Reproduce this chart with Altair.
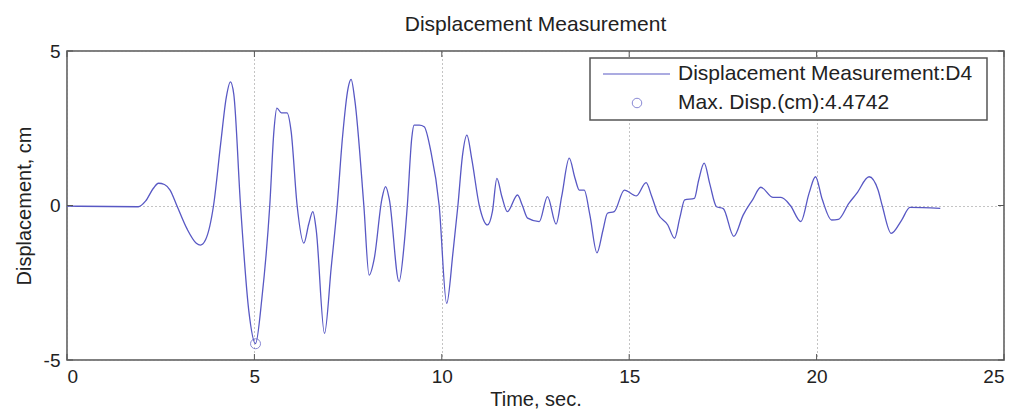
import altair as alt
import pandas as pd

# ---- data ----
time_s = [0.0, 1.9, 2.1, 2.3, 2.44, 2.6, 2.75, 2.93, 3.2, 3.45, 3.56, 3.7, 3.91,
          4.1, 4.25, 4.36, 4.45, 4.63, 4.85, 5.03, 5.2, 5.41, 5.52, 5.6, 5.72,
          5.87, 5.98, 6.14, 6.32, 6.45, 6.56, 6.65, 6.87, 7.05, 7.21, 7.35, 7.5,
          7.58, 7.68, 7.92, 8.06, 8.2, 8.4, 8.5, 8.6, 8.86, 9.0, 9.08, 9.2, 9.26,
          9.4, 9.53, 9.7, 9.93, 10.13, 10.3, 10.43, 10.55, 10.67, 10.8, 11.0,
          11.22, 11.35, 11.47, 11.6, 11.75, 12.02, 12.15, 12.29, 12.6, 12.82,
          13.05, 13.2, 13.4, 13.55, 13.67, 13.8, 13.95, 14.14, 14.3, 14.42, 14.6,
          14.87, 15.19, 15.45, 15.6, 15.76, 16.03, 16.21, 16.35, 16.48, 16.74,
          16.85, 17.0, 17.15, 17.33, 17.51, 17.79, 18.04, 18.3, 18.51, 18.84,
          19.05, 19.3, 19.58, 19.8, 19.97, 20.15, 20.4, 20.58, 20.86, 21.07,
          21.4, 21.64, 21.75, 21.99, 22.27, 22.49, 23.3]
disp_cm = [-0.02, -0.04, 0.15, 0.55, 0.72, 0.68, 0.5, 0.0, -0.75, -1.22, -1.28,
           -1.1, 0.0, 2.0, 3.5, 4.0, 3.6, 0.0, -3.4, -4.47, -3.0, 0.0, 2.4, 3.15,
           3.0, 3.0, 2.4, 0.0, -1.22, -0.6, -0.2, -0.8, -4.14, -2.0, 0.0, 2.2,
           3.8, 4.08, 3.4, 0.0, -2.25, -1.7, 0.2, 0.61, 0.2, -2.46, -1.2, 0.0,
           2.2, 2.6, 2.6, 2.55, 1.8, 0.0, -3.17, -1.5, 0.0, 1.6, 2.28, 1.5, 0.0,
           -0.63, -0.2, 0.88, 0.3, -0.2, 0.34, 0.0, -0.41, -0.52, 0.29, -0.6,
           0.3, 1.53, 0.9, 0.5, 0.5, -0.3, -1.53, -0.8, -0.25, -0.2, 0.5, 0.31,
           0.74, 0.3, -0.25, -0.63, -1.06, -0.4, 0.18, 0.23, 0.8, 1.37, 0.7,
           -0.04, -0.1, -1.0, -0.31, 0.2, 0.59, 0.26, 0.26, 0.0, -0.52, 0.4,
           0.93, 0.2, -0.47, -0.45, 0.07, 0.39, 0.93, 0.5, 0.0, -0.9, -0.47,
           -0.06, -0.09]
max_time = [5.03]
max_disp = [-4.4742]
x_ticks = [0, 5, 10, 15, 20, 25]
y_ticks = [-5, 0, 5]
legend_labels = ["Displacement Measurement:D4", "Max. Disp.(cm):4.4742"]

LINE = "#5858c4"
FRAME = "#555555"
TXT = "#222222"
FONT = "Liberation Sans"
W, H = 937, 309

df = pd.DataFrame({"t": time_s, "d": disp_cm})
dmax = pd.DataFrame({"t": max_time, "d": max_disp})
xt = pd.DataFrame({"t": x_ticks})
yt = pd.DataFrame({"d": y_ticks})

xs = alt.Scale(domain=[0, 25], nice=False, zero=False)
ys = alt.Scale(domain=[-5, 5], nice=False, zero=False)

common_axis = dict(grid=True, gridDash=[1, 3], gridColor="#888888", ticks=False,
                   domain=False, labelFont=FONT, titleFont=FONT,
                   labelFontSize=19, titleFontSize=20, titleFontWeight="normal",
                   labelColor=TXT, titleColor=TXT,
                   labelExpr="replace(datum.label, '\u2212', '-')")

base_x = alt.X("t:Q", scale=xs,
               axis=alt.Axis(values=x_ticks, title="Time, sec.",
                             labelPadding=7, titlePadding=3, **common_axis))
base_y = alt.Y("d:Q", scale=ys,
               axis=alt.Axis(values=y_ticks, title="Displacement, cm",
                             labelPadding=7, titlePadding=9, **common_axis))

line = alt.Chart(df).mark_line(color=LINE, strokeWidth=1.3,
                               interpolate="monotone").encode(x=base_x, y=base_y)

marker = alt.Chart(dmax).mark_point(shape="circle", size=100, color=LINE,
                                    strokeWidth=1, filled=False).encode(
    x=alt.X("t:Q", scale=xs), y=alt.Y("d:Q", scale=ys))

# inward tick marks on the four sides (MATLAB style)
xtick_b = alt.Chart(xt).mark_rule(color=FRAME, strokeWidth=1).encode(
    x=alt.X("t:Q", scale=xs), y=alt.value(H), y2=alt.value(H - 6))
xtick_t = alt.Chart(xt).mark_rule(color=FRAME, strokeWidth=1).encode(
    x=alt.X("t:Q", scale=xs), y=alt.value(0), y2=alt.value(6))
ytick_l = alt.Chart(yt).mark_rule(color=FRAME, strokeWidth=1).encode(
    y=alt.Y("d:Q", scale=ys), x=alt.value(0), x2=alt.value(6))
ytick_r = alt.Chart(yt).mark_rule(color=FRAME, strokeWidth=1).encode(
    y=alt.Y("d:Q", scale=ys), x=alt.value(W), x2=alt.value(W - 6))

# manual legend box
one = pd.DataFrame({"k": [0]})
leg_box = alt.Chart(one).mark_rect(fill="white", stroke=FRAME,
                                   strokeWidth=1.5).encode(
    x=alt.value(523), x2=alt.value(920), y=alt.value(7), y2=alt.value(69))
leg_line = alt.Chart(one).mark_rule(color=LINE, strokeWidth=1.2).encode(
    x=alt.value(536), x2=alt.value(603), y=alt.value(23))
leg_pt = alt.Chart(one).mark_point(shape="circle", size=90, color=LINE,
                                   strokeWidth=1, filled=False).encode(
    x=alt.value(570), y=alt.value(52))
leg_txt1 = alt.Chart(pd.DataFrame({"lab": [legend_labels[0]]})).mark_text(
    align="left", baseline="middle", font=FONT, fontSize=21, color=TXT).encode(
    x=alt.value(611), y=alt.value(23), text="lab:N")
leg_txt2 = alt.Chart(pd.DataFrame({"lab": [legend_labels[1]]})).mark_text(
    align="left", baseline="middle", font=FONT, fontSize=21, color=TXT).encode(
    x=alt.value(611), y=alt.value(52), text="lab:N")

chart = alt.layer(
    line, marker, xtick_b, xtick_t, ytick_l, ytick_r,
    leg_box, leg_line, leg_pt, leg_txt1, leg_txt2
).properties(
    width=W, height=H,
    title=alt.TitleParams("Displacement Measurement", font=FONT, fontSize=21,
                          fontWeight="normal", color=TXT, offset=7),
    autosize=alt.AutoSizeParams(type="none"),
    padding={"left": 59, "top": 43, "right": 8, "bottom": 50},
    background="white",
).configure_view(
    stroke=FRAME, strokeWidth=1.5
)

chart.save("out.html", embed_options={"renderer": "svg", "actions": False})
